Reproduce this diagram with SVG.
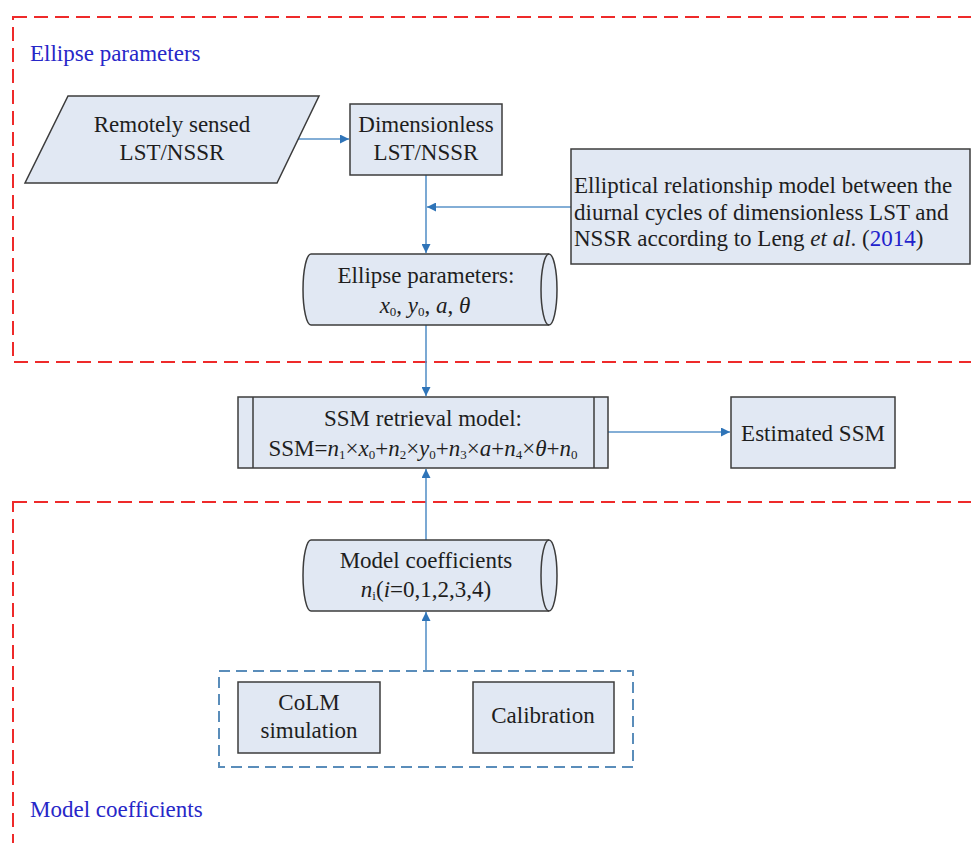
<svg xmlns="http://www.w3.org/2000/svg" width="971" height="843" viewBox="0 0 971 843">
<defs>
<style>
text{font-family:'Liberation Serif','Tinos','Times New Roman','DejaVu Serif',serif;font-size:23px;fill:#1e1e1e}
.c{text-anchor:middle}
.lbl{fill:#2727c8}
.box{fill:#e1e8f3;stroke:#3c3c3c;stroke-width:1.5}
.ln{fill:none;stroke:#3c3c3c;stroke-width:1.5}
.con{fill:none;stroke:#5a93c8;stroke-width:1.6}
.red{fill:none;stroke:#ee2a2a;stroke-width:2;stroke-dasharray:14 7}
.blu{fill:none;stroke:#5a8dba;stroke-width:2;stroke-dasharray:11 6}
.it{font-style:italic}
.sub{font-size:13px}
</style>
<marker id="ah" viewBox="0 0 10 10" refX="10" refY="5" markerWidth="9" markerHeight="9" markerUnits="userSpaceOnUse" orient="auto">
<path d="M0,0 L10,5 L0,10 z" fill="#2f74b8"/>
</marker>
</defs>

<g id="frames">
<rect class="red" x="13" y="17" width="990" height="345"/>
<rect class="red" x="13" y="502" width="990" height="380"/>
<text class="lbl" x="30" y="61">Ellipse parameters</text>
<text class="lbl" x="30" y="817">Model coefficients</text>
</g>

<g id="connectors">
<path class="con" d="M298,139 H349" marker-end="url(#ah)"/>
<path class="con" d="M426,175 V253" marker-end="url(#ah)"/>
<path class="con" d="M571,207 H427" marker-end="url(#ah)"/>
<path class="con" d="M426,325 V396" marker-end="url(#ah)"/>
<path class="con" d="M426,540 V469" marker-end="url(#ah)"/>
<path class="con" d="M608,432 H730" marker-end="url(#ah)"/>
<path class="con" d="M426,671 V612" marker-end="url(#ah)"/>
</g>

<g id="remote">
<path class="box" d="M68,96 L319,96 L277,183 L25,183 Z"/>
<text class="c" x="172" y="132">Remotely sensed</text>
<text class="c" x="172" y="160">LST/NSSR</text>
</g>

<g id="dimensionless">
<rect class="box" x="350" y="104" width="152" height="71"/>
<text class="c" x="426" y="132">Dimensionless</text>
<text class="c" x="426" y="160">LST/NSSR</text>
</g>

<g id="elliptical-model">
<rect class="box" x="571" y="149" width="399" height="115"/>
<text x="574" y="193">Elliptical relationship model between the</text>
<text x="574" y="219.5">diurnal cycles of dimensionless LST and</text>
<text x="574" y="246">NSSR according to Leng <tspan class="it">et al</tspan>. (<tspan fill="#2222cc">2014</tspan>)</text>
</g>

<g id="ellipse-params">
<path class="box" d="M311,254 A8,35.5 0 0 0 311,325 L549,325 A8,35.5 0 0 0 549,254 Z"/>
<path class="ln" d="M549,254 A8,35.5 0 0 0 549,325"/>
<text class="c" x="426" y="283">Ellipse parameters:</text>
<text class="c" x="425" y="313"><tspan class="it">x</tspan><tspan class="sub" dy="3">0</tspan><tspan dy="-3">, </tspan><tspan class="it">y</tspan><tspan class="sub" dy="3">0</tspan><tspan dy="-3">, </tspan><tspan class="it">a</tspan>, <tspan class="it">θ</tspan></text>
</g>

<g id="ssm-model">
<rect class="box" x="238" y="397" width="370" height="71"/>
<path class="ln" d="M253,397 V468 M594,397 V468"/>
<text class="c" x="423" y="426">SSM retrieval model:</text>
<text class="c" x="423" y="456">SSM=<tspan class="it">n</tspan><tspan class="sub" dy="3">1</tspan><tspan dy="-3">×</tspan><tspan class="it">x</tspan><tspan class="sub" dy="3">0</tspan><tspan dy="-3">+</tspan><tspan class="it">n</tspan><tspan class="sub" dy="3">2</tspan><tspan dy="-3">×</tspan><tspan class="it">y</tspan><tspan class="sub" dy="3">0</tspan><tspan dy="-3">+</tspan><tspan class="it">n</tspan><tspan class="sub" dy="3">3</tspan><tspan dy="-3">×</tspan><tspan class="it">a</tspan>+<tspan class="it">n</tspan><tspan class="sub" dy="3">4</tspan><tspan dy="-3">×</tspan><tspan class="it">θ</tspan>+<tspan class="it">n</tspan><tspan class="sub" dy="3">0</tspan></text>
</g>

<g id="estimated-ssm">
<rect class="box" x="731" y="397" width="164" height="71"/>
<text class="c" x="813" y="441">Estimated SSM</text>
</g>

<g id="model-coefficients">
<path class="box" d="M311,540 A8,35.5 0 0 0 311,611 L549,611 A8,35.5 0 0 0 549,540 Z"/>
<path class="ln" d="M549,540 A8,35.5 0 0 0 549,611"/>
<text class="c" x="426" y="568">Model coefficients</text>
<text class="c" x="426" y="597"><tspan class="it">n</tspan><tspan class="sub" dy="3">i</tspan><tspan dy="-3">(</tspan><tspan class="it">i</tspan>=0,1,2,3,4)</text>
</g>

<g id="sources">
<rect class="blu" x="219" y="671" width="414" height="96"/>
</g>

<g id="colm">
<rect class="box" x="238" y="682" width="142" height="71"/>
<text class="c" x="309" y="710">CoLM</text>
<text class="c" x="309" y="738">simulation</text>
</g>

<g id="calibration">
<rect class="box" x="473" y="682" width="141" height="71"/>
<text class="c" x="543" y="723">Calibration</text>
</g>
</svg>
